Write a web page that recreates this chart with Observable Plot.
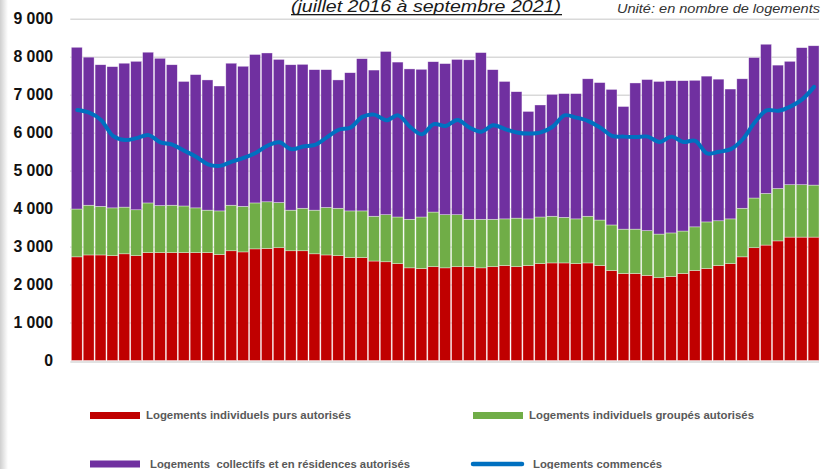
<!DOCTYPE html>
<html><head><meta charset="utf-8">
<script src="https://cdn.jsdelivr.net/npm/d3@7"></script>
<script src="https://cdn.jsdelivr.net/npm/@observablehq/plot@0.6"></script>
<style>
html,body{margin:0;padding:0;background:#fff;overflow:hidden;}
#wrap{position:relative;width:822px;height:469px;overflow:hidden;background:#fff;}
#chart{position:absolute;left:0;top:0;}
#strip{position:absolute;left:0;top:0;width:8px;height:469px;background:linear-gradient(to right,#cfcfcf,#ececec 60%,#fff);}
#over{position:absolute;left:0;top:0;pointer-events:none;}
</style></head>
<body><div id="wrap"><div id="chart"></div><div id="strip"></div></div>
<script>
// ---- data ----
const months = d3.utcMonth.range(new Date(Date.UTC(2016,6,1)), new Date(Date.UTC(2021,9,1))).map(d3.utcFormat("%Y-%m"));
const seriesNames = ["Logements individuels purs autorisés","Logements individuels groupés autorisés","Logements  collectifs et en résidences autorisés"];
const lineName = "Logements commencés";
const seriesColors = ["#c00000","#70ad47","#7030a0"];
const lineColor = "#0070c0";
const individuelsPurs = [2730,2780,2780,2760,2810,2760,2840,2840,2840,2840,2840,2840,2790,2890,2860,2940,2950,2970,2890,2890,2810,2780,2760,2710,2710,2620,2600,2550,2440,2420,2470,2440,2470,2470,2440,2470,2500,2470,2500,2550,2570,2570,2550,2570,2500,2370,2290,2290,2240,2180,2210,2290,2370,2420,2500,2550,2730,2970,3040,3150,3250,3250,3250];
const individuelsGroupes = [1260,1310,1280,1260,1230,1210,1310,1240,1250,1230,1180,1120,1150,1200,1200,1210,1230,1190,1070,1120,1150,1250,1250,1230,1230,1180,1240,1230,1280,1360,1440,1400,1370,1250,1280,1250,1230,1280,1230,1230,1230,1200,1180,1230,1200,1200,1170,1170,1180,1150,1150,1120,1150,1230,1180,1180,1280,1310,1360,1380,1380,1380,1370];
const collectifs = [4260,3900,3730,3720,3790,3910,3970,3880,3700,3280,3510,3430,3290,3740,3690,3910,3920,3770,3830,3790,3700,3630,3380,3640,4010,3850,4300,4080,3960,3890,3960,3980,4090,4200,4390,3940,3620,3330,2830,2950,3210,3260,3300,3620,3620,3570,3230,3850,3980,4020,4010,3960,3860,3840,3730,3420,3410,3700,3930,3250,3250,3610,3670];
const commences = [6610,6540,6350,5930,5820,5870,5950,5760,5700,5540,5380,5180,5140,5250,5350,5480,5670,5760,5580,5650,5690,5890,6090,6150,6430,6490,6340,6470,6170,5970,6240,6190,6350,6150,6040,6210,6110,6020,5990,6020,6170,6470,6410,6320,6150,5930,5910,5900,5910,5770,5910,5770,5800,5470,5510,5580,5840,6280,6600,6590,6700,6890,7220];
const yTicks = [0,1000,2000,3000,4000,5000,6000,7000,8000,9000];
const title = "(juillet 2016 à septembre 2021)";
const unit = "Unité: en nombre de logements";

// ---- build tables ----
const seriesValues = [individuelsPurs, individuelsGroupes, collectifs];
const bars = [];
seriesNames.forEach((s, k) => months.forEach((m, i) => bars.push({month: m, series: s, value: seriesValues[k][i]})));
const line = months.map((m, i) => ({month: m, value: commences[i]}));
const fmt = d => d3.format(",")(d).replace(/,/g, " ");

const chart = Plot.plot({
  width: 830, height: 372,
  marginLeft: 71, marginRight: 3, marginTop: 19, marginBottom: 8,
  style: {fontFamily: "'Liberation Sans', Arial, sans-serif", background: "transparent", color: "#111"},
  x: {type: "band", domain: months, paddingInner: 0.09, paddingOuter: 0.04, axis: null},
  y: {domain: [0, 9000], axis: null},
  color: {domain: seriesNames, range: seriesColors},
  marks: [
    Plot.ruleY(yTicks.filter(d => d > 0), {stroke: "#d9d9d9", strokeWidth: 1.6}),
    Plot.barY(bars, {x: "month", y: "value", fill: "series", stroke: "#ffffff", strokeWidth: 0.6, strokeOpacity: 0.6}),
    Plot.ruleY([0], {stroke: "#d9d9d9", strokeWidth: 1.6, dy: 1}),
    Plot.line(line, {x: "month", y: "value", stroke: lineColor, strokeWidth: 4, curve: "catmull-rom"}),
    Plot.axisY({ticks: yTicks, tickFormat: fmt, tickSize: 0, tickPadding: 18, fontSize: 16, fontWeight: "bold", label: null})
  ]
});
document.getElementById("chart").appendChild(chart);

// ---- title + legend overlay ----
const over = d3.select("#wrap").append("svg").attr("id", "over").attr("width", 822).attr("height", 469)
  .style("font-family", "'Liberation Sans', Arial, sans-serif");
over.append("text").attr("x", 291).attr("y", 12).attr("font-size", 17).attr("font-style", "italic")
  .attr("fill", "#1a1a1a").attr("textLength", 270).attr("lengthAdjust", "spacingAndGlyphs").text(title);
over.append("rect").attr("x", 291).attr("y", 14).attr("width", 271).attr("height", 1.3).attr("fill", "#1a1a1a");
over.append("text").attr("x", 617).attr("y", 12.7).attr("font-size", 12.5).attr("font-style", "italic")
  .attr("fill", "#333").attr("textLength", 203).attr("lengthAdjust", "spacingAndGlyphs").text(unit);

const legend = [
  {name: seriesNames[0], color: seriesColors[0], type: "rect", x: 90, w: 50, y: 415.5, tx: 146, tw: 205},
  {name: seriesNames[1], color: seriesColors[1], type: "rect", x: 473, w: 50, y: 415.5, tx: 529, tw: 225},
  {name: seriesNames[2], color: seriesColors[2], type: "rect", x: 90, w: 50, y: 464, tx: 150, tw: 260},
  {name: lineName, color: lineColor, type: "line", x: 471, w: 53, y: 464, tx: 533, tw: 129}
];
legend.forEach(l => {
  if (l.type === "rect") {
    over.append("rect").attr("x", l.x).attr("y", l.y - 3.5).attr("width", l.w).attr("height", 7).attr("fill", l.color);
  } else {
    over.append("line").attr("x1", l.x + 2).attr("x2", l.x + l.w - 2).attr("y1", l.y).attr("y2", l.y)
      .attr("stroke", l.color).attr("stroke-width", 4.5).attr("stroke-linecap", "round");
  }
  over.append("text").attr("x", l.tx).attr("y", l.y + 3.6).attr("font-size", 11.5).attr("font-weight", "bold")
    .attr("fill", "#595959").attr("textLength", l.tw).attr("lengthAdjust", "spacingAndGlyphs")
    .style("white-space", "pre").text(l.name);
});
</script></body></html>
